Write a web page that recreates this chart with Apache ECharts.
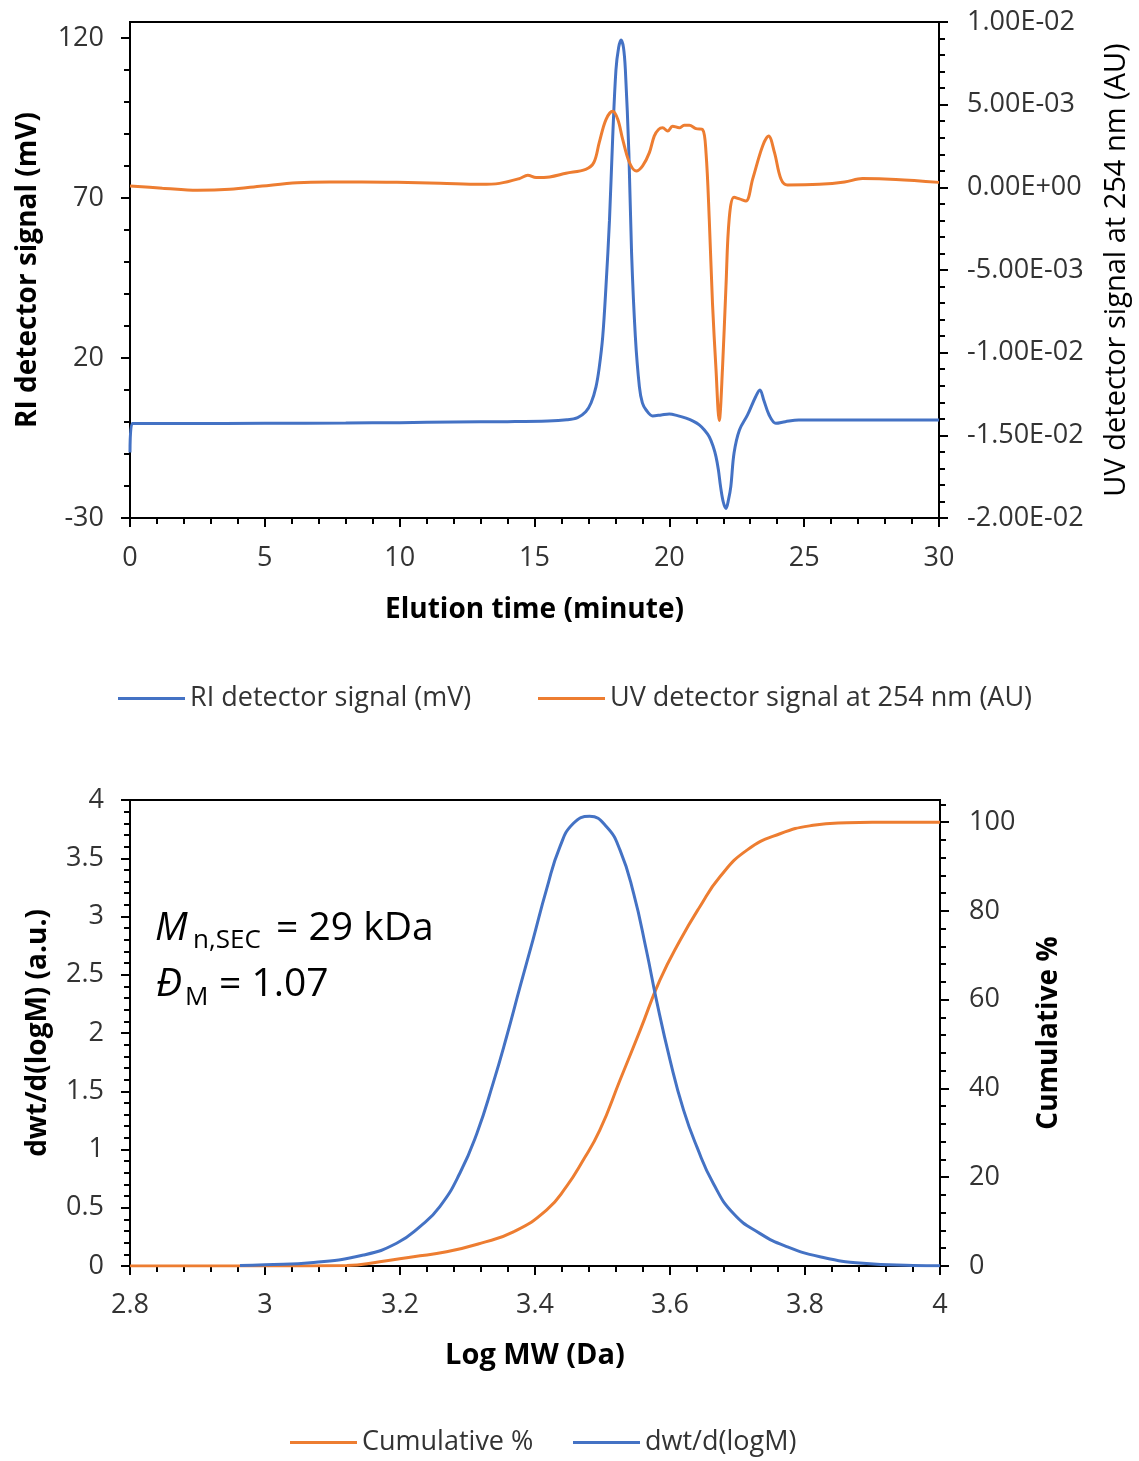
<!DOCTYPE html>
<html><head><meta charset="utf-8">
<script src="https://cdn.jsdelivr.net/npm/echarts@6/dist/echarts.min.js"></script>
<style>html,body{margin:0;padding:0;background:#fff}#c{width:1139px;height:1461px}</style>
</head><body><div id="c"></div>
<script>
// ---- Top chart: SEC chromatogram ----
const riTime = [0, 0.08, 2, 5, 8, 10, 12, 14, 15.5, 16.2, 16.6, 16.9, 17.1, 17.28, 17.4, 17.53, 17.65, 17.78, 17.9, 18.02, 18.12, 18.21, 18.3, 18.37, 18.5, 18.6, 18.74, 18.89, 19.0, 19.14, 19.38, 19.7, 20.0, 20.3, 20.62, 20.9, 21.11, 21.3, 21.48, 21.62, 21.73, 21.82, 21.9, 22.0, 22.1, 22.2, 22.28, 22.4, 22.6, 22.9, 23.2, 23.36, 23.5, 23.7, 23.95, 24.3, 24.8, 27, 30];
const riSignal = [-9.5, -0.5, -0.5, -0.4, -0.3, -0.2, 0, 0.1, 0.3, 0.7, 1.4, 3.2, 6, 11, 17, 26.7, 42.3, 63, 89, 110, 117, 119.4, 117, 110, 84, 52.8, 26.7, 11, 6, 3.75, 1.9, 2.2, 2.5, 2.0, 1.2, 0.2, -0.9, -2.5, -4.6, -7.5, -10.8, -15, -20.2, -25, -27, -24, -20.2, -9.7, -2.5, 2.2, 7.9, 10, 6.9, 2.2, -0.4, 0.1, 0.6, 0.6, 0.6];
const uvTime = [0, 1.2, 2.5, 3.7, 4.9, 6.2, 7.4, 8.6, 9.9, 11.5, 13, 13.7, 14.44, 14.75, 15.06, 15.56, 16.17, 16.9, 17.2, 17.4, 17.65, 17.9, 18.09, 18.27, 18.52, 18.77, 19.01, 19.26, 19.44, 19.6, 19.75, 19.94, 20.12, 20.37, 20.55, 20.74, 20.99, 21.23, 21.36, 21.48, 21.6, 21.73, 21.85, 21.97, 22.1, 22.22, 22.4, 22.6, 22.84, 23.09, 23.46, 23.68, 23.9, 24.14, 24.38, 25.56, 26.5, 27.16, 28.4, 30];
const uvSignal = [0.00008, -0.00005, -0.00018, -0.00012, 0.00008, 0.00028, 0.00032, 0.00032, 0.0003, 0.00025, 0.00018, 0.00024, 0.00053, 0.00073, 0.00059, 0.00063, 0.00085, 0.00109, 0.0015, 0.0027, 0.0041, 0.0046, 0.0041, 0.0029, 0.0015, 0.00099, 0.0013, 0.0021, 0.0031, 0.0035, 0.0036, 0.0034, 0.0037, 0.0036, 0.00375, 0.00375, 0.00355, 0.0035, 0.0021, -0.0019, -0.007, -0.011, -0.0141, -0.011, -0.006, -0.0019, -0.0006, -0.0007, -0.00083, 0.0005, 0.0025, 0.0031, 0.0021, 0.0005, 0.00014, 0.00018, 0.00032, 0.00053, 0.00048, 0.0003];
const riTickLabels = [-30, 20, 70, 120];
const riMinorTicks = [-20, -10, 0, 10, 30, 40, 50, 60, 80, 90, 100, 110];

// ---- Bottom chart: molecular weight distribution ----
const dwtLogM = [2.963, 3.0, 3.072, 3.146, 3.195, 3.23, 3.259, 3.289, 3.314, 3.338, 3.358, 3.378, 3.397, 3.417, 3.437, 3.457, 3.481, 3.506, 3.526, 3.546, 3.565, 3.58, 3.6, 3.62, 3.64, 3.664, 3.694, 3.733, 3.773, 3.822, 3.886, 3.96, 4.0];
const dwtValues = [0.005, 0.01, 0.03, 0.094, 0.195, 0.34, 0.51, 0.80, 1.14, 1.57, 1.97, 2.40, 2.80, 3.23, 3.60, 3.80, 3.86, 3.77, 3.57, 3.20, 2.71, 2.28, 1.77, 1.34, 1.02, 0.71, 0.45, 0.28, 0.166, 0.08, 0.023, 0.005, 0.002];
const cumLogM = [2.8, 3.0, 3.121, 3.17, 3.22, 3.269, 3.319, 3.368, 3.417, 3.447, 3.47, 3.496, 3.526, 3.556, 3.585, 3.615, 3.644, 3.674, 3.714, 3.763, 3.812, 3.862, 3.9, 4.0];
const cumPercent = [0, 0, 0.1, 0.98, 2.1, 3.2, 5.1, 7.7, 12.6, 18.0, 23.5, 30.6, 41.9, 53.2, 64.4, 73.4, 80.9, 87.7, 93.7, 97.4, 99.3, 99.9, 100, 100];
const cumTickLabels = [0, 20, 40, 60, 80, 100];
const cumMinorTicks = [4, 8, 12, 16, 24, 28, 32, 36, 44, 48, 52, 56, 64, 68, 72, 76, 84, 88, 92, 96, 104];

const F = "'Open Sans', sans-serif";
const BLUE = '#4472C4', ORANGE = '#ED7D31';

function sci(v) {
  if (Math.abs(v) < 1e-12) return '0.00E+00';
  let e = Math.floor(Math.log10(Math.abs(v)));
  let m = v / Math.pow(10, e);
  if (Math.abs(m).toFixed(2) === '10.00') { m /= 10; e += 1; }
  return m.toFixed(2) + 'E' + (e < 0 ? '-' : '+') + String(Math.abs(e)).padStart(2, '0');
}

const lineBlack = { color: '#000', width: 2 };
const lbl = (extra) => Object.assign({ fontSize: 27, color: '#333', fontFamily: F }, extra || {});
const nameStyle = (extra) => Object.assign({ fontSize: 28, color: '#000', fontFamily: F, fontWeight: 'bold' }, extra || {});
const lineSeries = (name, xi, yi, color, xs, ys, sm) => ({
  name, type: 'line', xAxisIndex: xi, yAxisIndex: yi, color,
  data: xs.map((x, i) => [x, ys[i]]), showSymbol: false, smooth: sm,
  lineStyle: { width: 3, color }
});
const legendItem = (name, left, top, size) => ({
  left, top, padding: 0, data: [name], icon: 'rect', itemWidth: 67, itemHeight: 3,
  textStyle: { fontSize: size, color: '#333', fontFamily: F }
});

const chart = echarts.init(document.getElementById('c'), null, { renderer: 'canvas' });
chart.setOption({
  animation: false,
  backgroundColor: '#fff',
  grid: [
    { left: 130, right: 199, top: 22, height: 496, show: true, borderColor: '#000', borderWidth: 2, backgroundColor: 'transparent' },
    { left: 130, right: 199, top: 800, height: 466, show: true, borderColor: '#000', borderWidth: 2, backgroundColor: 'transparent' }
  ],
  xAxis: [
    { gridIndex: 0, type: 'value', min: 0, max: 30, interval: 5,
      axisLine: { onZero: false, lineStyle: lineBlack },
      axisTick: { inside: false, length: 9, lineStyle: lineBlack },
      minorTick: { show: true, splitNumber: 5, length: 6, lineStyle: lineBlack },
      splitLine: { show: false },
      axisLabel: lbl({ margin: 27 }),
      name: 'Elution time (minute)', nameLocation: 'middle', nameGap: 78, nameTextStyle: nameStyle() },
    { gridIndex: 1, type: 'value', min: 2.8, max: 4, interval: 0.2,
      axisLine: { onZero: false, lineStyle: lineBlack },
      axisTick: { inside: false, length: 9, lineStyle: lineBlack },
      minorTick: { show: true, splitNumber: 5, length: 6, lineStyle: lineBlack },
      splitLine: { show: false },
      axisLabel: lbl({ margin: 26 }),
      name: 'Log MW (Da)', nameLocation: 'middle', nameGap: 75, nameTextStyle: nameStyle({ fontSize: 29 }) }
  ],
  yAxis: [
    { gridIndex: 0, type: 'value', position: 'left', min: -30, max: 125,
      axisLine: { onZero: false, lineStyle: lineBlack },
      axisTick: { inside: false, length: 9, lineStyle: lineBlack, customValues: riTickLabels },
      splitLine: { show: false },
      axisLabel: lbl({ margin: 26, customValues: riTickLabels }),
      name: 'RI detector signal (mV)', nameLocation: 'middle', nameGap: 88, nameRotate: 90, nameTextStyle: nameStyle() },
    { gridIndex: 0, type: 'value', position: 'right', min: -0.02, max: 0.01, interval: 0.005,
      axisLine: { onZero: false, lineStyle: lineBlack },
      axisTick: { inside: false, length: 9, lineStyle: lineBlack },
      minorTick: { show: true, splitNumber: 5, length: 6, lineStyle: lineBlack },
      splitLine: { show: false },
      axisLabel: lbl({ margin: 28, formatter: sci }),
      name: 'UV detector signal at 254 nm (AU)', nameLocation: 'middle', nameGap: 163, nameRotate: 90,
      nameTextStyle: nameStyle({ fontWeight: 'normal', fontSize: 29 }) },
    { gridIndex: 0, type: 'value', position: 'left', min: -30, max: 125,
      axisLine: { show: false },
      axisTick: { inside: false, length: 6, lineStyle: lineBlack, customValues: riMinorTicks },
      splitLine: { show: false }, axisLabel: { show: false } },
    { gridIndex: 1, type: 'value', position: 'left', min: 0, max: 4, interval: 0.5,
      axisLine: { onZero: false, lineStyle: lineBlack },
      axisTick: { inside: false, length: 9, lineStyle: lineBlack },
      minorTick: { show: true, splitNumber: 5, length: 6, lineStyle: lineBlack },
      splitLine: { show: false },
      axisLabel: lbl({ margin: 26 }),
      name: 'dwt/d(logM) (a.u.)', nameLocation: 'middle', nameGap: 78, nameRotate: 90, nameTextStyle: nameStyle() },
    { gridIndex: 1, type: 'value', position: 'right', min: 0, max: 105,
      axisLine: { onZero: false, lineStyle: lineBlack },
      axisTick: { inside: false, length: 9, lineStyle: lineBlack, customValues: cumTickLabels },
      splitLine: { show: false },
      axisLabel: lbl({ margin: 29, customValues: cumTickLabels }),
      name: 'Cumulative %', nameLocation: 'middle', nameGap: 95, nameRotate: 90, nameTextStyle: nameStyle() },
    { gridIndex: 1, type: 'value', position: 'right', min: 0, max: 105,
      axisLine: { show: false },
      axisTick: { inside: false, length: 6, lineStyle: lineBlack, customValues: cumMinorTicks },
      splitLine: { show: false }, axisLabel: { show: false } }
  ],
  legend: [
    legendItem('RI detector signal (mV)', 118, 685, 27),
    legendItem('UV detector signal at 254 nm (AU)', 538, 685, 27),
    legendItem('Cumulative %', 290, 1429, 27),
    legendItem('dwt/d(logM)', 573, 1429, 27)
  ],
  series: [
    lineSeries('RI detector signal (mV)', 0, 0, BLUE, riTime, riSignal, 0.35),
    lineSeries('UV detector signal at 254 nm (AU)', 0, 1, ORANGE, uvTime, uvSignal, 0.35),
    lineSeries('Cumulative %', 1, 4, ORANGE, cumLogM, cumPercent, 0.5),
    lineSeries('dwt/d(logM)', 1, 3, BLUE, dwtLogM, dwtValues, 0.5)
  ],
  graphic: [
    { type: 'text', x: 155, y: 929, style: { text: 'M', fontSize: 39, fontStyle: 'italic', fontFamily: F, fill: '#000', verticalAlign: 'middle' } },
    { type: 'text', x: 193, y: 941, style: { text: 'n,SEC', fontSize: 26, fontFamily: F, fill: '#000', verticalAlign: 'middle' } },
    { type: 'text', x: 276, y: 929, style: { text: '= 29 kDa', fontSize: 39, fontFamily: F, fill: '#000', verticalAlign: 'middle' } },
    { type: 'text', x: 156, y: 985, style: { text: 'Đ', fontSize: 39, fontStyle: 'italic', fontFamily: F, fill: '#000', verticalAlign: 'middle' } },
    { type: 'text', x: 185, y: 998, style: { text: 'M', fontSize: 26, fontFamily: F, fill: '#000', verticalAlign: 'middle' } },
    { type: 'text', x: 219, y: 985, style: { text: '= 1.07', fontSize: 39, fontFamily: F, fill: '#000', verticalAlign: 'middle' } }
  ]
});
</script>
</body></html>
